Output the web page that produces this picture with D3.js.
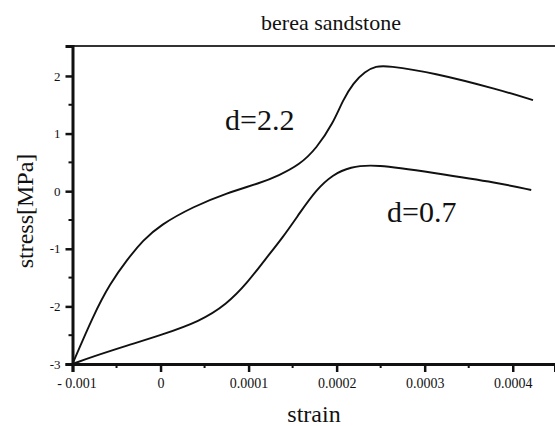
<!DOCTYPE html>
<html>
<head>
<meta charset="utf-8">
<script src="https://cdn.jsdelivr.net/npm/d3@7"></script>
<style>
  body { margin: 0; background: #fff; }
  svg text { font-family: "Liberation Serif", "DejaVu Serif", serif; fill: #111; }
</style>
</head>
<body>
<svg id="chart" width="555" height="426"></svg>
<script>
// values
var strainHigh = [-0.0001, -0.0000765, -0.0000573, -0.000038, -0.0000198, -0.0000006, 0.0000368, 0.0000754, 0.000113, 0.000134, 0.000158, 0.000177, 0.000196, 0.000207, 0.000219, 0.000232, 0.000245, 0.000257, 0.000309, 0.000385, 0.000423];
var stressHigh = [-3, -2.16, -1.60, -1.19, -0.85, -0.59, -0.27, -0.03, 0.14, 0.27, 0.46, 0.74, 1.18, 1.58, 1.88, 2.08, 2.17, 2.18, 2.06, 1.76, 1.58];

var strainLow = [-0.0001, -0.0000765, -0.000038, 0, 0.0000448, 0.0000754, 0.0000981, 0.000118, 0.000139, 0.000158, 0.000177, 0.000196, 0.000215, 0.000243, 0.000309, 0.000385, 0.000421];
var stressLow = [-3, -2.87, -2.68, -2.5, -2.26, -1.96, -1.60, -1.20, -0.80, -0.38, 0.03, 0.29, 0.42, 0.47, 0.32, 0.14, 0.02];

var xTicks = [-0.0001, 0, 0.0001, 0.0002, 0.0003, 0.0004];
var xTickLabels = ['- 0.001', '0', '0.0001', '0.0002', '0.0003', '0.0004'];
var xMinor = [-0.00005, 0.00005, 0.00015, 0.00025, 0.00035];
var yTicks = [-3, -2, -1, 0, 1, 2];
var yMinor = [-2.5, -1.5, -0.5, 0.5, 1.5];

var svg = d3.select('#chart');
var margin = { left: 72.5, top: 46, right: 0, bottom: 62 };
var W = 555, H = 426;
var serif = '"Liberation Serif", "DejaVu Serif", serif';

var x = d3.scaleLinear().domain([-0.0001, 0.000448]).range([margin.left, W - margin.right]);
var y = d3.scaleLinear().domain([-3, 2.52]).range([H - margin.bottom, margin.top]);

var line = d3.line()
    .x(function(d){ return x(d[0]); })
    .y(function(d){ return y(d[1]); })
    .curve(d3.curveBasis);

function pairs(a, b){ return a.map(function(v, i){ return [v, b[i]]; }); }

// curves
[pairs(strainHigh, stressHigh), pairs(strainLow, stressLow)].forEach(function(series){
    svg.append('path')
        .datum(series)
        .attr('d', line)
        .attr('fill', 'none')
        .attr('stroke', '#111')
        .attr('stroke-width', 1.9);
});

// frame top line
svg.append('line')
    .attr('x1', x.range()[0]).attr('x2', W)
    .attr('y1', margin.top).attr('y2', margin.top)
    .attr('stroke', '#333').attr('stroke-width', 2);

// x axis
var xAxis = svg.append('g')
    .attr('transform', 'translate(0,' + y(-3) + ')');
xAxis.call(d3.axisBottom(x).tickValues(xTicks).tickSize(8)
        .tickFormat(function(d, i){ return xTickLabels[i]; }))
    .call(function(g){
        g.attr('font-family', serif);
        g.select('.domain').attr('stroke', '#111').attr('stroke-width', 3);
        g.selectAll('.tick line').attr('stroke', '#111').attr('stroke-width', 2.5);
        g.selectAll('.tick text')
            .attr('font-size', 14)
            .attr('fill', '#222')
            .attr('y', 14);
        g.selectAll('.tick text').filter(function(d){ return d < 0; }).attr('dx', 4);
    });
xAxis.selectAll('.minor')
    .data(xMinor).enter()
    .append('line')
    .attr('x1', function(d){ return x(d); }).attr('x2', function(d){ return x(d); })
    .attr('y1', 0).attr('y2', 4)
    .attr('stroke', '#111').attr('stroke-width', 2);

// y axis
var yAxis = svg.append('g')
    .attr('transform', 'translate(' + x(-0.0001) + ',0)');
yAxis.call(d3.axisLeft(y).tickValues(yTicks).tickSize(7).tickPadding(5)
        .tickFormat(function(d){ return String(d); }))
    .call(function(g){
        g.attr('font-family', serif);
        g.select('.domain').attr('stroke', '#111').attr('stroke-width', 3);
        g.selectAll('.tick line').attr('stroke', '#111').attr('stroke-width', 2.5);
        g.selectAll('.tick text')
            .attr('font-size', 13)
            .attr('fill', '#222');
    });
yAxis.selectAll('.minor')
    .data(yMinor).enter()
    .append('line')
    .attr('x1', -4).attr('x2', 0)
    .attr('y1', function(d){ return y(d); }).attr('y2', function(d){ return y(d); })
    .attr('stroke', '#111').attr('stroke-width', 2);

// titles and labels
svg.append('text')
    .attr('x', 331).attr('y', 30)
    .attr('text-anchor', 'middle')
    .attr('font-family', serif)
    .attr('font-size', 22)
    .text('berea sandstone');

svg.append('text')
    .attr('x', 314).attr('y', 422)
    .attr('text-anchor', 'middle')
    .attr('font-family', serif)
    .attr('font-size', 24)
    .text('strain');

svg.append('text')
    .attr('transform', 'translate(33,211) rotate(-90)')
    .attr('text-anchor', 'middle')
    .attr('font-family', serif)
    .attr('font-size', 24)
    .text('stress[MPa]');

svg.append('text')
    .attr('x', 225).attr('y', 130)
    .attr('font-family', serif)
    .attr('font-size', 30)
    .text('d=2.2');

svg.append('text')
    .attr('x', 387).attr('y', 222)
    .attr('font-family', serif)
    .attr('font-size', 30)
    .text('d=0.7');
</script>
</body>
</html>
